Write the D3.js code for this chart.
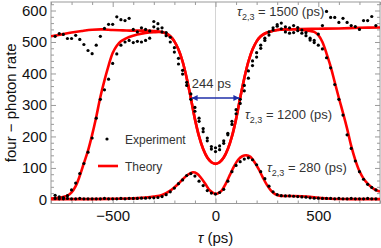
<!DOCTYPE html>
<html>
<head>
<meta charset="utf-8">
<script src="https://cdn.jsdelivr.net/npm/d3@7"></script>
<style>
  body { margin: 0; background: #fff; }
  svg { display: block; font-family: "Liberation Sans", Arial, sans-serif; }
</style>
</head>
<body>
<div id="chart"></div>
<script>
// delay grid of the measurements (ps)
const tau = [-780,-760,-740,-720,-700,-680,-660,-640,-620,-600,-580,-560,-540,-520,-500,-480,-460,-440,-420,-400,
  -380,-360,-340,-320,-300,-280,-260,-240,-220,-200,-180,-160,-140,-120,-100,-80,-60,-40,-20,0,
  20,40,60,80,100,120,140,160,180,200,220,240,260,280,300,320,340,360,380,400,
  420,440,460,480,500,520,540,560,580,600,620,640,660,680,700,720,740,760,780];

// measured four-photon rate for the three tau_2,3 settings
const exp1500 = [518,527,524,511,511,521,508,492,473,463,490,518,543,556,556,580,571,568,575,540,
  532,545,540,535,565,558,545,530,515,482,448,410,372,335,292,258,225,195,160,152,
  158,178,205,238,272,305,345,385,425,452,480,505,522,538,555,560,548,545,552,546,
  538,530,512,505,525,552,597,578,578,562,575,562,552,549,540,568,568,581,552];
const exp1200 = [13,8,6,12,30,52,82,114,150,195,258,318,348,382,432,462,490,500,505,498,
  502,500,505,512,548,542,532,520,500,468,430,398,362,318,280,248,215,186,168,164,
  170,186,210,248,285,318,362,408,440,466,490,512,532,545,550,542,532,528,530,536,
  528,520,506,498,490,478,450,418,365,318,268,205,162,122,88,64,48,38,30];
const exp280 = [3,2,2,3,2,2,3,2,2,2,2,2,3,2,2,2,3,2,3,3,
  3,4,4,5,5,6,9,15,24,36,50,62,76,82,74,58,44,28,20,17,
  22,32,58,88,108,120,128,132,126,110,88,66,42,24,15,12,11,11,10,9,
  8,7,5,4,4,3,3,3,2,3,2,2,3,2,2,2,3,2,2];

// theory curves
const th1500Tau = [-800,-750,-700,-650,-600,-550,-500,-450,-400,-350,-300,-260,
  -240,-220,-200,-180,-160,-140,-120,-100,-80,-60,-40,-20,0,20,40,60,80,100,120,140,160,180,200,220,240,
  260,300,400,500,600,700,800];
const th1500 = [518,524,530,535,539,540,538,537,536,536,535,532,
  527,518,502,476,438,385,322,255,200,160,133,118,113,118,133,160,200,255,322,385,438,476,502,518,527,
  532,538,541,542,543,545,546];

const th1200Tau = [-800,-760,-740,-720,-700,-680,-660,-640,-620,-600,-580,-560,-540,-520,-500,-480,-460,-440,-420,-380,-340,-300,-260,
  -240,-220,-200,-180,-160,-140,-120,-100,-80,-60,-40,-20,0,20,40,60,80,100,120,140,160,180,200,220,240,
  260,300,350,400,450,480,500,520,540,560,580,600,620,640,660,680,700,720,740,760,780,800];
const th1200 = [3,5,8,12,22,42,75,115,155,205,262,325,378,425,465,488,502,510,516,524,529,531,531,
  527,518,502,476,438,385,322,255,200,160,133,118,113,118,133,160,200,255,322,385,438,476,502,518,527,
  532,538,540,540,536,532,522,500,463,422,372,322,275,225,170,125,90,66,50,38,30,25];

const th280Tau = [-800,-600,-500,-420,-380,-340,-300,-260,-220,-180,
  -150,-130,-110,-90,-70,-50,-30,-10,0,
  10,30,50,70,90,110,130,150,170,190,210,230,250,270,290,310,
  340,380,420,460,500,560,650,800];
const th280 = [1,1,2,3,4,6,9,14,28,50,
  70,80,86,82,68,50,30,20,18,
  19,28,50,78,105,126,137,140,135,118,96,70,46,28,17,12,
  11,11,10,8,5,2,1,1];

// axis ticks
const xTicks = [-500, 0, 500];
const yTicks = [0, 100, 200, 300, 400, 500, 600];

const width = 381;
const height = 248;

const svg = d3.select("#chart")
  .append("svg")
  .attr("width", width)
  .attr("height", height);

const x = d3.scaleLinear().domain([-800, 800]).range([51, 380]);
const y = d3.scaleLinear().domain([-13, 627]).range([203.5, 2]);

const frameColor = "#9a9a9a";

// zero line
svg.append("line")
  .attr("x1", x(0)).attr("x2", x(0))
  .attr("y1", y.range()[1]).attr("y2", y.range()[0])
  .attr("stroke", "#d4d4d4")
  .attr("stroke-width", 1);

// frame
svg.append("rect")
  .attr("x", x.range()[0])
  .attr("y", y.range()[1])
  .attr("width", x.range()[1] - x.range()[0])
  .attr("height", y.range()[0] - y.range()[1])
  .attr("fill", "none")
  .attr("stroke", frameColor)
  .attr("stroke-width", 1);

const xMinor = d3.range(-800, 801, 100).filter(d => !xTicks.includes(d));
const yMinor = d3.range(0, 621, 20).filter(d => !yTicks.includes(d));

function styleAxis(g) {
  g.select(".domain").remove();
  g.selectAll(".tick line").attr("stroke", frameColor);
  g.selectAll(".tick text")
    .attr("fill", "#111")
    .style("font-size", "15px")
    .style("font-family", "'Liberation Sans', Arial, sans-serif");
}

// bottom axis with labels
svg.append("g")
  .attr("transform", `translate(0,${y.range()[0]})`)
  .call(d3.axisBottom(x).tickValues(xTicks).tickSizeInner(-5).tickSizeOuter(0).tickPadding(7))
  .call(styleAxis);
svg.append("g")
  .attr("transform", `translate(0,${y.range()[0]})`)
  .call(d3.axisBottom(x).tickValues(xMinor).tickSizeInner(-3).tickSizeOuter(0).tickFormat(""))
  .call(styleAxis);
// top axis, ticks only
svg.append("g")
  .attr("transform", `translate(0,${y.range()[1]})`)
  .call(d3.axisTop(x).tickValues(xTicks).tickSizeInner(-5).tickSizeOuter(0).tickFormat(""))
  .call(styleAxis);
svg.append("g")
  .attr("transform", `translate(0,${y.range()[1]})`)
  .call(d3.axisTop(x).tickValues(xMinor).tickSizeInner(-3).tickSizeOuter(0).tickFormat(""))
  .call(styleAxis);

// left axis with labels
svg.append("g")
  .attr("transform", `translate(${x.range()[0]},0)`)
  .call(d3.axisLeft(y).tickValues(yTicks).tickSizeInner(-5).tickSizeOuter(0).tickPadding(4))
  .call(styleAxis);
svg.append("g")
  .attr("transform", `translate(${x.range()[0]},0)`)
  .call(d3.axisLeft(y).tickValues(yMinor).tickSizeInner(-3).tickSizeOuter(0).tickFormat(""))
  .call(styleAxis);
// right axis, ticks only
svg.append("g")
  .attr("transform", `translate(${x.range()[1]},0)`)
  .call(d3.axisRight(y).tickValues(yTicks).tickSizeInner(-5).tickSizeOuter(0).tickFormat(""))
  .call(styleAxis);
svg.append("g")
  .attr("transform", `translate(${x.range()[1]},0)`)
  .call(d3.axisRight(y).tickValues(yMinor).tickSizeInner(-3).tickSizeOuter(0).tickFormat(""))
  .call(styleAxis);

// clip to plot area
svg.append("clipPath").attr("id", "plot-clip")
  .append("rect")
  .attr("x", x.range()[0]).attr("y", y.range()[1])
  .attr("width", x.range()[1] - x.range()[0])
  .attr("height", y.range()[0] - y.range()[1]);

const plot = svg.append("g").attr("clip-path", "url(#plot-clip)");

// theory lines
const line = d3.line()
  .x(d => x(d[0]))
  .y(d => y(d[1]))
  .curve(d3.curveCatmullRom.alpha(0.5));

[[th1500Tau, th1500], [th1200Tau, th1200], [th280Tau, th280]].forEach(([t, v]) => {
  plot.append("path")
    .datum(t.map((d, i) => [d, v[i]]))
    .attr("d", line)
    .attr("fill", "none")
    .attr("stroke", "#ff0000")
    .attr("stroke-width", 2.6)
    .attr("stroke-linejoin", "round");
});

// experiment dots
[exp1500, exp1200, exp280].forEach(vals => {
  plot.selectAll(null)
    .data(tau.map((d, i) => [d, vals[i]]))
    .enter()
    .append("circle")
    .attr("cx", d => x(d[0]))
    .attr("cy", d => y(d[1]))
    .attr("r", 1.6)
    .attr("fill", "#000");
});

// width arrow
const defs = svg.append("defs");
defs.append("marker")
  .attr("id", "arrow")
  .attr("viewBox", "0 0 10 10")
  .attr("refX", 10).attr("refY", 5)
  .attr("markerWidth", 7).attr("markerHeight", 6)
  .attr("markerUnits", "userSpaceOnUse")
  .attr("orient", "auto-start-reverse")
  .append("path")
  .attr("d", "M0,0 L10,5 L0,10 z")
  .attr("fill", "#1f2fa8");

svg.append("line")
  .attr("x1", x(-116)).attr("x2", x(116))
  .attr("y1", y(322)).attr("y2", y(322))
  .attr("stroke", "#1f2fa8")
  .attr("stroke-width", 1.5)
  .attr("marker-start", "url(#arrow)")
  .attr("marker-end", "url(#arrow)");

svg.append("text")
  .attr("x", x(-115)).attr("y", y(353))
  .attr("fill", "#333")
  .style("font-size", "13px")
  .text("244 ps");

// tau_2,3 labels
function tauLabel(t, v, val) {
  const txt = svg.append("text")
    .attr("x", x(t)).attr("y", y(v))
    .attr("fill", "#333")
    .style("font-size", "13px");
  txt.append("tspan").style("font-style", "italic").text("τ");
  txt.append("tspan").attr("dy", 4).style("font-size", "9px").text("2,3");
  txt.append("tspan").attr("dy", -4).text(` = ${val} (ps)`);
}
tauLabel(105, 581, 1500);
tauLabel(143, 254, 1200);
tauLabel(250, 86, 280);

// legend
svg.append("circle")
  .attr("cx", 107).attr("cy", 139)
  .attr("r", 1.6).attr("fill", "#000");
svg.append("text")
  .attr("x", 125).attr("y", 144)
  .attr("fill", "#333")
  .style("font-size", "12px")
  .text("Experiment");
svg.append("line")
  .attr("x1", 98).attr("x2", 118)
  .attr("y1", 166).attr("y2", 166)
  .attr("stroke", "#ff0000")
  .attr("stroke-width", 2.6);
svg.append("text")
  .attr("x", 125).attr("y", 170.5)
  .attr("fill", "#333")
  .style("font-size", "12px")
  .text("Theory");

// axis titles
svg.append("text")
  .attr("transform", `translate(16,${(y.range()[0] + y.range()[1]) / 2}) rotate(-90)`)
  .attr("text-anchor", "middle")
  .attr("fill", "#111")
  .style("font-size", "15px")
  .text("four − photon rate");

const xTitle = svg.append("text")
  .attr("x", x(0)).attr("y", 243)
  .attr("text-anchor", "middle")
  .attr("fill", "#111")
  .style("font-size", "15px");
xTitle.append("tspan").style("font-style", "italic").text("τ");
xTitle.append("tspan").text(" (ps)");
</script>
</body>
</html>
